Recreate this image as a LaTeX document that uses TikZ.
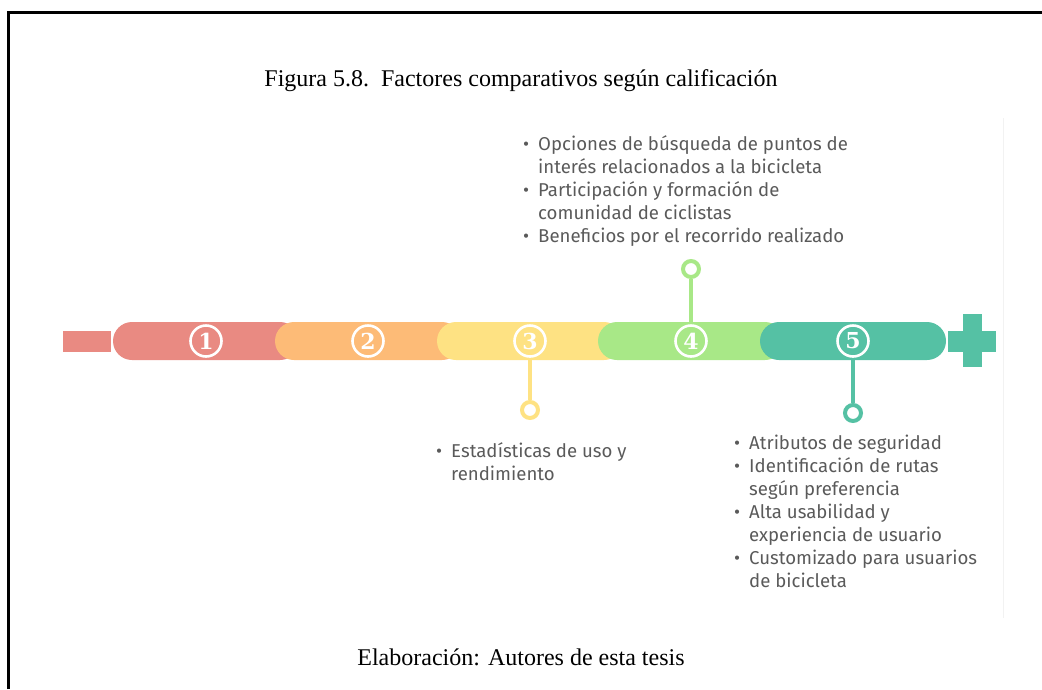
\documentclass[tikz,border=0pt]{standalone}
\usepackage{fontspec}
\setmainfont{Liberation Serif}
\newfontfamily\bodysans{Fira Sans}
\newfontfamily\digitfont{DejaVu Serif}
\definecolor{cA}{HTML}{E98A82}
\definecolor{cB}{HTML}{FDBB77}
\definecolor{cC}{HTML}{FEE283}
\definecolor{cD}{HTML}{A8E887}
\definecolor{cE}{HTML}{55C1A4}
\definecolor{txt}{HTML}{5A5A5A}
\newcommand\bul{\makebox[15pt][l]{•}}
\newcommand\ind{\hspace*{15pt}}
\tikzset{
  pillbox/.style={rectangle, rounded corners=19pt, minimum width=186pt, minimum height=38pt, inner sep=0pt, draw=none},
  numc/.style={circle, draw=white, line width=2.6pt, minimum size=31pt, inner sep=0pt, text=white, font=\digitfont\bfseries\fontsize{22}{22}\selectfont},
  pinring/.style={circle, line width=4pt, minimum size=16pt, inner sep=0pt, fill=white},
  stem/.style={line width=4pt},
  bullets/.style={anchor=north west, inner sep=0pt, align=left, text=txt, font=\bodysans\fontsize{18.6}{23}\selectfont},
  caption/.style={inner sep=0pt, font=\fontsize{24}{24}\selectfont},
  signbar/.style={rectangle, inner sep=0pt, draw=none}
}
\begin{document}
\begin{tikzpicture}[x=1pt,y=-1pt]
\useasboundingbox (0,0) rectangle (1042,689);
% frame
\draw[line width=3pt] (8,689) -- (8,12) -- (1042,12);
% faint image edge
\draw[line width=1pt, black!5] (1003,118) -- (1003,618);
% captions
\node[caption] (title) at (521,81) {Figura 5.8.\ \ Factores comparativos según calificación};
\node[caption] (source) at (521,657) {Elaboración: Autores de esta tesis};
% pin heads
\node[pinring, draw=cC] (k3) at (530,410) {};
\node[pinring, draw=cD] (k4) at (691,269) {};
\node[pinring, draw=cE] (k5) at (853,413) {};
% pills
\node[pillbox, fill=cA] (p1) at (206,341) {};
\node[numc, fill=cA] (n1) at (p1) {1};
\node[pillbox, fill=cB] (p2) at (368,341) {};
\node[numc, fill=cB] (n2) at (p2) {2};
\node[pillbox, fill=cC] (p3) at (530,341) {};
\node[numc, fill=cC] (n3) at (p3) {3};
\node[pillbox, fill=cD] (p4) at (691,341) {};
\node[numc, fill=cD] (n4) at (p4) {4};
\node[pillbox, fill=cE] (p5) at (853,341) {};
\node[numc, fill=cE] (n5) at (p5) {5};
\draw[stem, cC] (k3.north) -- (p3.south);
\draw[stem, cD] (k4.south) -- (p4.north);
\draw[stem, cE] (k5.north) -- (p5.south);
% minus and plus
\node[signbar, fill=cA, minimum width=48pt, minimum height=21pt] (minus) at (87,341.5) {};
\node[signbar, fill=cE, minimum width=48pt, minimum height=21pt] (plush) at (972,341.5) {};
\node[signbar, fill=cE, minimum width=19pt, minimum height=53pt] (plusv) at (972.5,340.5) {};
% texts
\node[bullets] (t4) at (523,135) {\bul Opciones de búsqueda de puntos de\\
\ind interés relacionados a la bicicleta\\
\bul Participación y formación de\\
\ind comunidad de ciclistas\\
\bul Beneficios por el recorrido realizado};
\node[bullets] (t3) at (436,442) {\bul Estadísticas de uso y\\
\ind rendimiento};
\node[bullets] (t5) at (734,435) {\bul Atributos de seguridad\\
\bul Identificación de rutas\\
\ind según preferencia\\
\bul Alta usabilidad y\\
\ind experiencia de usuario\\
\bul Customizado para usuarios\\
\ind de bicicleta};
\end{tikzpicture}
\end{document}
